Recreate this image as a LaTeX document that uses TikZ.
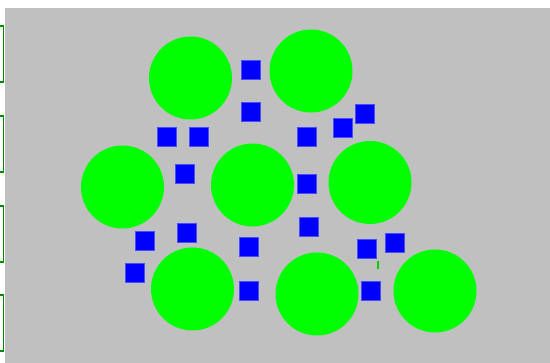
\documentclass[tikz,border=0pt]{standalone}
\definecolor{bggray}{RGB}{192,192,192}
\definecolor{brightgreen}{RGB}{0,255,0}
\definecolor{edgegreen}{RGB}{0,140,0}
\definecolor{sqblue}{RGB}{0,0,255}
\begin{document}
\begin{tikzpicture}[x=1pt,y=-1pt,
  blob/.style={circle,fill=brightgreen,draw=none,minimum size=83pt,inner sep=0pt},
  sqbox/.style={rectangle,fill=sqblue,draw=sqblue!70!white,line width=0.6pt,minimum size=19.5pt,inner sep=0pt},
  sidebox/.style={draw=edgegreen,line width=1.4pt}]
\useasboundingbox (0,0) rectangle (550,363);
\fill[white] (0,0) rectangle (550,363);
\fill[bggray] (5,8) rectangle (550,363);
% left partial boxes
\draw[sidebox] (-30,26) rectangle (3.5,82);
\draw[sidebox] (-30,116) rectangle (3.5,172);
\draw[sidebox] (-30,206) rectangle (3.5,262);
\draw[sidebox] (-30,295) rectangle (3.5,351);
% circles
\node[blob] (c1) at (190.5,78) {};
\node[blob] (c2) at (311,71) {};
\node[blob] (c3) at (122.5,187) {};
\node[blob] (c4) at (252.5,185) {};
\node[blob] (c5) at (370,182.5) {};
\node[blob] (c6) at (192.5,289) {};
\node[blob] (c7) at (317,294) {};
\node[blob] (c8) at (435,291) {};
% squares
\node[sqbox] (s1) at (251,70) {};
\node[sqbox] (s2) at (251,112) {};
\node[sqbox] (s3) at (167,137) {};
\node[sqbox] (s4) at (199,137) {};
\node[sqbox] (s5) at (307,137) {};
\node[sqbox] (s6) at (343,128) {};
\node[sqbox] (s7) at (365,114) {};
\node[sqbox] (s8) at (185,174) {};
\node[sqbox] (s9) at (307,184) {};
\node[sqbox] (s10) at (309,227) {};
\node[sqbox] (s11) at (187,233) {};
\node[sqbox] (s12) at (145,241) {};
\node[sqbox] (s13) at (249,247) {};
\node[sqbox] (s14) at (135,273) {};
\node[sqbox] (s15) at (249,291) {};
\node[sqbox] (s16) at (367,249) {};
\node[sqbox] (s17) at (395,243) {};
\node[sqbox] (s18) at (371,291) {};
% small mark
\fill[brightgreen!80!black] (377,261) rectangle (379,269);
\end{tikzpicture}
\end{document}
